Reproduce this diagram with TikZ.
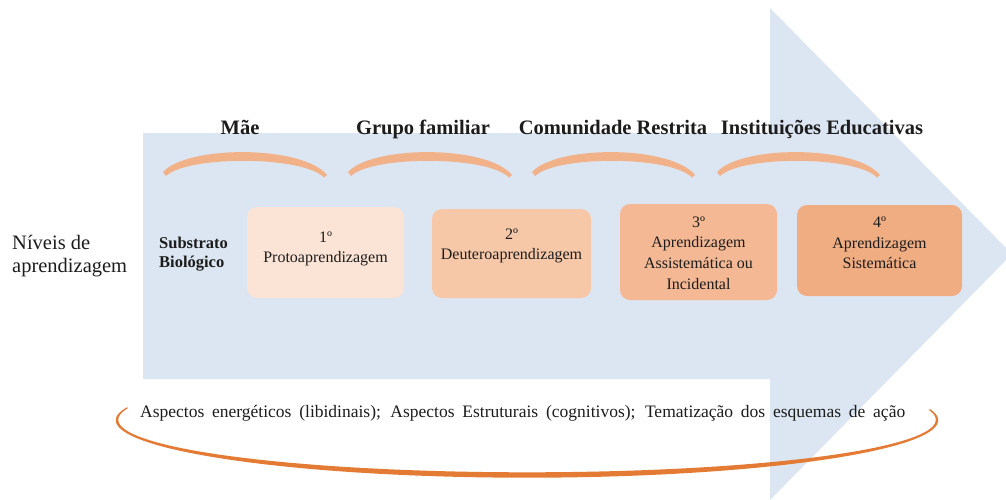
\documentclass[tikz,border=0pt]{standalone}
\usepackage{fontspec}
\setmainfont{Liberation Serif}
\definecolor{arrowblue}{RGB}{220,230,242}
\definecolor{arcpeach}{RGB}{242,178,137}
\definecolor{boxa}{RGB}{251,228,213}
\definecolor{boxb}{RGB}{247,200,168}
\definecolor{boxc}{RGB}{244,185,148}
\definecolor{boxd}{RGB}{241,173,130}
\definecolor{bottomorange}{RGB}{228,123,52}
\definecolor{textcol}{RGB}{28,28,28}
\newcommand\peacharc[2]{%
  \fill[arcpeach] (#1,172) .. controls ({#1+0.15*(#2-#1)},145) and ({#2-0.15*(#2-#1)},145) .. (#2,175)
    -- ({#2-3},177.5) .. controls ({#2-0.15*(#2-#1)},155.5) and ({#1+0.15*(#2-#1)},155.5) .. ({#1+3},176) -- cycle;}
\begin{document}
\begin{tikzpicture}[x=1pt,y=-1pt,
  toplabel/.style={font=\bfseries\fontsize{20.5}{24}\selectfont, inner sep=0pt, anchor=base, text=textcol},
  boxtext/.style={font=\fontsize{16}{20.5}\selectfont, align=center, inner sep=0pt, text=textcol},
  lvlbox/.style={rounded corners=10pt, inner sep=0pt, draw=none}]
\clip (0,0) rectangle (1006,499);
\fill[white] (0,0) rectangle (1006,499);
% big arrow
\fill[arrowblue] (143,133) -- (770,133) -- (770,8) -- (1012,254) -- (770,500) -- (770,379) -- (143,379) -- cycle;
% top labels
\node[toplabel] (mae) at (240,134) {Mãe};
\node[toplabel] (grupo) at (423,134) {Grupo familiar};
\node[toplabel] (comunidade) at (613,134) {Comunidade Restrita};
\node[toplabel] (inst) at (822,134) {Instituições Educativas};
% arcs
\peacharc{163}{327}
\peacharc{348}{512}
\peacharc{532}{695}
\peacharc{717}{880}
% left label
\node[font=\fontsize{20.5}{23}\selectfont, align=left, anchor=west, inner sep=0pt, text=textcol] (niveis) at (12,256) {Níveis de\\aprendizagem};
\node[font=\bfseries\fontsize{16.5}{18.5}\selectfont, align=left, anchor=west, inner sep=0pt, text=textcol] (substrato) at (159,254) {Substrato\\Biológico};
% boxes
\node[lvlbox, fill=boxa, minimum width=157pt, minimum height=91pt] (b1) at (325.5,252.5) {};
\node[lvlbox, fill=boxb, minimum width=159pt, minimum height=89pt] (b2) at (511.5,253.5) {};
\node[lvlbox, fill=boxc, minimum width=157pt, minimum height=96pt] (b3) at (698.5,252) {};
\node[lvlbox, fill=boxd, minimum width=165pt, minimum height=91pt] (b4) at (879.5,250.5) {};
\node[boxtext] (t1) at (325.5,249) {1º\\Protoaprendizagem};
\node[boxtext] (t2) at (511.5,246) {2º\\Deuteroaprendizagem};
\node[boxtext] (t3) at (698.5,253) {3º\\Aprendizagem\\Assistemática ou\\Incidental};
\node[boxtext] (t4) at (879.5,243) {4º\\Aprendizagem\\Sistemática};
% bottom arc
\fill[bottomorange] plot[domain=167:371, samples=100, variable=\t]
  ({527+(410+0.9+1.8*sin((\t-167)*0.88235))*cos(\t)}, {420-(55+0.9+1.8*sin((\t-167)*0.88235))*sin(\t)})
  -- plot[domain=371:167, samples=100, variable=\t]
  ({527+(410-0.9-1.8*sin((\t-167)*0.88235))*cos(\t)}, {420-(55-0.9-1.8*sin((\t-167)*0.88235))*sin(\t)}) -- cycle;
\node[font=\fontsize{17.5}{20}\selectfont, anchor=base west, inner sep=0pt, text=textcol] (aspectos) at (140,417)
  {\makebox[765pt][s]{Aspectos energéticos (libidinais); Aspectos Estruturais (cognitivos); Tematização dos esquemas de ação}};
\end{tikzpicture}
\end{document}
